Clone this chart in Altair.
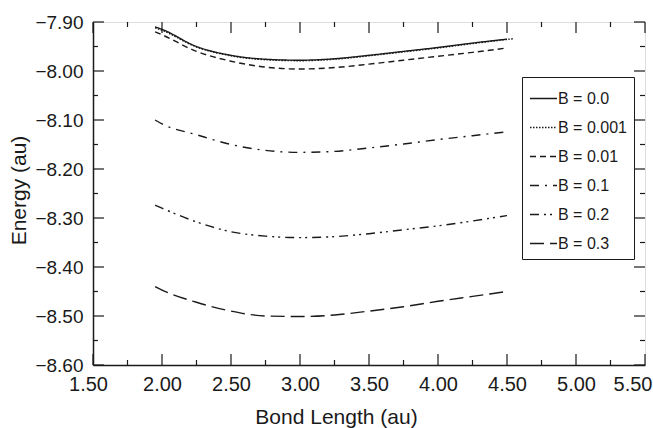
import altair as alt
import pandas as pd

bond = [1.95, 2.00, 2.25, 2.50, 2.75, 3.00, 3.25, 3.50, 3.75, 4.00, 4.25, 4.50]
e_b00 = [-7.910, -7.915, -7.950, -7.968, -7.976, -7.978, -7.975, -7.968, -7.960, -7.952, -7.943, -7.935]
bond_b001 = [1.95, 2.00, 2.25, 2.50, 2.75, 3.00, 3.25, 3.50, 3.75, 4.00, 4.25, 4.55]
e_b001 = [-7.912, -7.917, -7.951, -7.969, -7.977, -7.979, -7.976, -7.969, -7.961, -7.953, -7.944, -7.934]
e_b01 = [-7.920, -7.926, -7.960, -7.980, -7.992, -7.996, -7.993, -7.986, -7.978, -7.970, -7.962, -7.953]
e_b1 = [-8.100, -8.108, -8.130, -8.150, -8.162, -8.166, -8.164, -8.157, -8.149, -8.140, -8.132, -8.124]
e_b2 = [-8.274, -8.280, -8.308, -8.328, -8.337, -8.340, -8.338, -8.332, -8.324, -8.316, -8.306, -8.295]
e_b3 = [-8.440, -8.447, -8.472, -8.490, -8.500, -8.501, -8.498, -8.490, -8.481, -8.470, -8.460, -8.450]

labels = ["B = 0.0", "B = 0.001", "B = 0.01", "B = 0.1", "B = 0.2", "B = 0.3"]
dashes = [[1, 0], [1.5, 1.5], [6, 4], [9, 6, 2, 6], [9, 5, 2, 4, 2, 5], [14, 6]]

x_major = [1.5, 2.0, 2.5, 3.0, 3.5, 4.0, 4.5, 5.0, 5.5]
x_minor = [1.75, 2.25, 2.75, 3.25, 3.75, 4.25, 4.75, 5.25]
y_major = [-8.6, -8.5, -8.4, -8.3, -8.2, -8.1, -8.0, -7.9]
y_minor = [-8.55, -8.45, -8.35, -8.25, -8.15, -8.05, -7.95]

series = [(labels[0], bond, e_b00), (labels[1], bond_b001, e_b001), (labels[2], bond, e_b01),
          (labels[3], bond, e_b1), (labels[4], bond, e_b2), (labels[5], bond, e_b3)]
rows = []
for lab, xs, ys in series:
    for i, (xv, yv) in enumerate(zip(xs, ys)):
        rows.append({"series": lab, "bond": xv, "energy": yv, "order": i})
df = pd.DataFrame(rows)

W, H = 552, 343
FONT = "Liberation Sans"
INK = "#1a1a1a"

xscale = alt.Scale(domain=[1.5, 5.5], nice=False, zero=False)
yscale = alt.Scale(domain=[-8.6, -7.9], nice=False, zero=False)

lines = alt.Chart(df).mark_line(strokeWidth=1.4, color=INK, interpolate="monotone").encode(
    x=alt.X("bond:Q", scale=xscale, title="Bond Length (au)",
            axis=alt.Axis(values=x_major, format=".2f", ticks=False, grid=False,
                          labelFlush=False,
                          labelAlign=alt.expr("datum.value >= 5.5 ? 'right' : 'center'"),
                          labelOffset=alt.expr("datum.value >= 5.5 ? 7 : (datum.value <= 1.5 ? -5 : 0)"),
                          labelFontSize=20, labelPadding=9, titleFontSize=21,
                          titleX=243, titleY=58, titleBaseline="alphabetic", titleAlign="center",
                          labelFont=FONT, titleFont=FONT,
                          labelColor=INK, titleColor=INK, domainColor=INK,
                          domainWidth=1.5, titleFontWeight="normal")),
    y=alt.Y("energy:Q", scale=yscale, title="Energy (au)",
            axis=alt.Axis(values=y_major, format=".2f", ticks=False, grid=False,
                          labelFlush=False,
                          labelFontSize=19, labelPadding=10, titleFontSize=21,
                          titleX=-68, titleY=168, titleAngle=270, titleBaseline="alphabetic",
                          titleAlign="center",
                          labelFont=FONT, titleFont=FONT,
                          labelColor=INK, titleColor=INK, domainColor=INK,
                          domainWidth=1.5, titleFontWeight="normal")),
    strokeDash=alt.StrokeDash("series:N", sort=labels,
                              scale=alt.Scale(domain=labels, range=dashes),
                              legend=alt.Legend(title=None, orient="none", legendX=429, legendY=55,
                                                symbolType="stroke", symbolSize=729,
                                                symbolStrokeWidth=1.4, symbolStrokeColor=INK,
                                                labelFontSize=16, labelFont=FONT, labelColor=INK,
                                                strokeColor=INK, fillColor="white", padding=7,
                                                rowPadding=6, labelOffset=0)),
    order="order:Q",
)

def tick_layer(vals, axis, side, length):
    if axis == "x":
        d = pd.DataFrame({"bond": vals})
        if side == "bottom":
            ys = dict(y=alt.value(H), y2=alt.value(H - length))
        else:
            ys = dict(y=alt.value(0), y2=alt.value(length))
        return alt.Chart(d).mark_rule(color=INK, strokeWidth=1.2).encode(
            x=alt.X("bond:Q", scale=xscale), **ys)
    else:
        d = pd.DataFrame({"energy": vals})
        if side == "left":
            xs = dict(x=alt.value(0), x2=alt.value(length))
        else:
            xs = dict(x=alt.value(W), x2=alt.value(W - length))
        return alt.Chart(d).mark_rule(color=INK, strokeWidth=1.2).encode(
            y=alt.Y("energy:Q", scale=yscale), **xs)

ticks = [
    tick_layer(x_major, "x", "bottom", 11), tick_layer(x_minor, "x", "bottom", 5),
    tick_layer(x_major, "x", "top", 11), tick_layer(x_minor, "x", "top", 5),
    tick_layer(y_major, "y", "left", 11), tick_layer(y_minor, "y", "left", 5),
    tick_layer(y_major, "y", "right", 11), tick_layer(y_minor, "y", "right", 5),
]

chart = alt.layer(lines, *ticks).properties(
    width=W, height=H,
    autosize=alt.AutoSizeParams(type="none"),
    padding={"left": 93, "top": 22, "right": 8, "bottom": 63},
).configure_view(stroke=INK, strokeWidth=1.5).configure(background="white")

chart.save("out.html", embed_options={"renderer": "svg", "actions": False})
